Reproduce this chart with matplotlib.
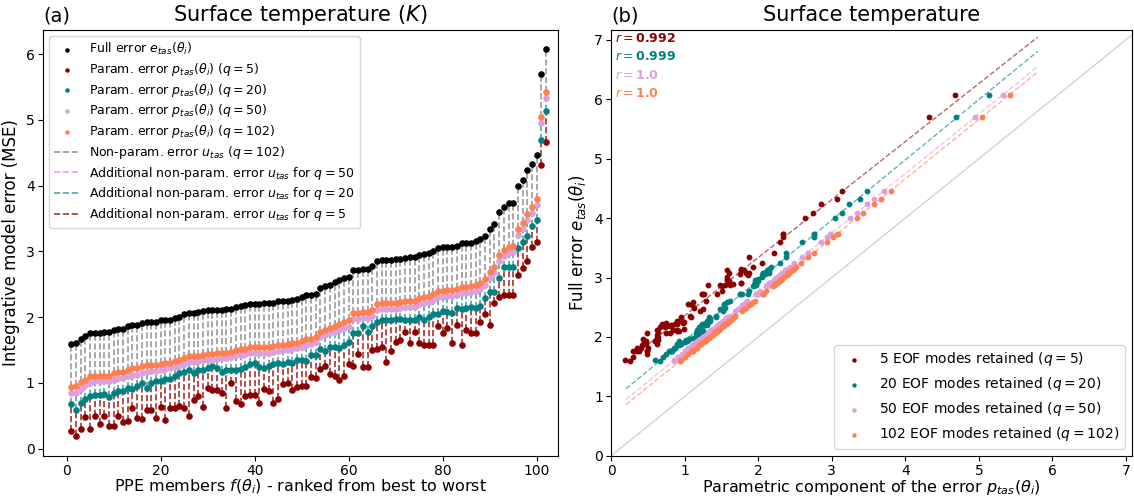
import numpy as np
import matplotlib.pyplot as plt
import matplotlib

# members ranked from best to worst
members = np.arange(1, 103)

full_err = [1.59, 1.61, 1.67, 1.71, 1.76, 1.76, 1.76, 1.77, 1.77, 1.81,
            1.82, 1.82, 1.86, 1.88, 1.88, 1.91, 1.93, 1.93, 1.93, 1.95,
            1.96, 1.96, 1.99, 2.00, 2.04, 2.06, 2.06, 2.07, 2.09, 2.10,
            2.10, 2.11, 2.11, 2.12, 2.13, 2.16, 2.17, 2.18, 2.20, 2.20,
            2.20, 2.21, 2.21, 2.22, 2.24, 2.24, 2.25, 2.26, 2.27, 2.30,
            2.33, 2.33, 2.35, 2.44, 2.47, 2.49, 2.53, 2.56, 2.59, 2.61,
            2.72, 2.72, 2.73, 2.73, 2.77, 2.86, 2.87, 2.87, 2.87, 2.88,
            2.89, 2.90, 2.91, 2.91, 2.95, 2.96, 2.98, 3.01, 3.05, 3.06,
            3.07, 3.07, 3.08, 3.12, 3.12, 3.13, 3.15, 3.18, 3.24, 3.34,
            3.42, 3.60, 3.68, 3.73, 3.74, 4.00, 4.09, 4.23, 4.33, 4.46,
            5.70, 6.08]

p_q102 = [0.93, 0.95, 1.01, 1.05, 1.10, 1.10, 1.10, 1.11, 1.11, 1.15,
          1.16, 1.16, 1.20, 1.22, 1.22, 1.25, 1.27, 1.27, 1.27, 1.29,
          1.30, 1.30, 1.33, 1.34, 1.38, 1.40, 1.40, 1.41, 1.43, 1.44,
          1.44, 1.45, 1.45, 1.46, 1.47, 1.50, 1.51, 1.52, 1.54, 1.54,
          1.54, 1.55, 1.55, 1.56, 1.58, 1.58, 1.59, 1.60, 1.61, 1.64,
          1.67, 1.67, 1.69, 1.78, 1.81, 1.83, 1.87, 1.90, 1.93, 1.95,
          2.06, 2.06, 2.07, 2.07, 2.11, 2.20, 2.21, 2.21, 2.21, 2.22,
          2.23, 2.24, 2.25, 2.25, 2.29, 2.30, 2.32, 2.35, 2.39, 2.40,
          2.41, 2.41, 2.42, 2.46, 2.46, 2.47, 2.49, 2.52, 2.58, 2.68,
          2.76, 2.94, 3.02, 3.07, 3.08, 3.34, 3.43, 3.57, 3.67, 3.80,
          5.04, 5.42]

p_q50 = [0.85, 0.85, 0.91, 0.96, 1.00, 1.02, 1.02, 1.03, 1.03, 1.05,
         1.07, 1.07, 1.10, 1.12, 1.12, 1.15, 1.16, 1.18, 1.18, 1.19,
         1.21, 1.22, 1.24, 1.25, 1.29, 1.31, 1.31, 1.33, 1.34, 1.35,
         1.35, 1.36, 1.37, 1.38, 1.39, 1.42, 1.43, 1.44, 1.45, 1.45,
         1.46, 1.46, 1.46, 1.47, 1.49, 1.50, 1.50, 1.52, 1.53, 1.55,
         1.58, 1.59, 1.62, 1.69, 1.72, 1.75, 1.78, 1.80, 1.83, 1.85,
         1.97, 1.97, 1.98, 1.98, 2.02, 2.11, 2.12, 2.12, 2.13, 2.13,
         2.14, 2.15, 2.16, 2.16, 2.20, 2.21, 2.23, 2.26, 2.30, 2.31,
         2.32, 2.32, 2.33, 2.37, 2.37, 2.38, 2.40, 2.43, 2.49, 2.59,
         2.67, 2.85, 2.93, 2.98, 2.99, 3.25, 3.34, 3.48, 3.58, 3.71,
         4.95, 5.33]

p_q20 = [0.67, 0.59, 0.70, 0.75, 0.80, 0.81, 0.81, 0.83, 0.78, 0.85,
         0.87, 0.87, 0.92, 0.90, 0.95, 1.00, 0.92, 1.00, 1.03, 1.02,
         1.06, 1.06, 1.11, 1.15, 1.16, 1.20, 1.15, 1.19, 1.20, 1.23,
         1.25, 1.23, 1.16, 1.20, 1.20, 1.19, 1.21, 1.24, 1.28, 1.30,
         1.24, 1.23, 1.25, 1.28, 1.30, 1.29, 1.31, 1.30, 1.34, 1.34,
         1.33, 1.43, 1.43, 1.52, 1.48, 1.55, 1.54, 1.53, 1.58, 1.62,
         1.75, 1.75, 1.86, 1.78, 1.87, 1.93, 1.96, 1.95, 1.95, 1.97,
         1.97, 1.96, 1.96, 1.96, 2.00, 1.96, 2.00, 2.05, 2.05, 2.09,
         2.07, 2.06, 2.14, 2.12, 2.14, 2.15, 2.14, 2.17, 2.29, 2.38,
         2.38, 2.59, 2.76, 2.76, 2.76, 3.05, 3.14, 3.24, 3.38, 3.48,
         4.69, 5.14]

p_q5 = [0.26, 0.19, 0.29, 0.48, 0.30, 0.49, 0.38, 0.49, 0.35, 0.35,
        0.50, 0.40, 0.42, 0.62, 0.47, 0.45, 0.59, 0.59, 0.47, 0.63,
        0.43, 0.62, 0.62, 0.64, 0.62, 0.49, 0.74, 0.80, 0.63, 0.92,
        0.89, 0.89, 0.84, 0.62, 0.99, 0.73, 0.67, 0.80, 0.81, 0.82,
        0.70, 0.90, 0.87, 0.69, 0.75, 0.98, 0.99, 0.89, 0.94, 0.95,
        0.95, 1.09, 1.07, 1.21, 1.25, 1.13, 1.10, 1.05, 1.11, 1.29,
        1.26, 1.44, 1.24, 1.24, 1.50, 1.51, 1.55, 1.31, 1.48, 1.62,
        1.65, 1.77, 1.60, 1.77, 1.60, 1.57, 1.58, 1.57, 1.86, 1.75,
        1.84, 1.60, 1.88, 1.58, 1.81, 1.76, 1.76, 1.93, 2.05, 1.88,
        2.22, 2.30, 2.34, 2.33, 2.33, 2.64, 2.74, 2.86, 3.07, 3.14,
        4.32, 4.67]

q_values = [5, 20, 50, 102]
r_labels = ['0.992', '0.999', '1.0', '1.0']
colors = ['darkred', 'teal', 'plum', 'coral']

full_err = np.array(full_err)
params = [np.array(p) for p in (p_q5, p_q20, p_q50, p_q102)]

fig = plt.figure(figsize=(11.34, 4.97), dpi=100)
ax1 = fig.add_axes([0.038, 0.083, 0.454, 0.857])
ax2 = fig.add_axes([0.539, 0.083, 0.459, 0.857])

# ---- (a) ranked errors
ax1.vlines(members, params[3], full_err, colors='grey', linestyles='dashed', alpha=0.8, lw=1.2,
           label=r'Non-param. error $u_{tas}$ ($q=102$)', zorder=1)
ax1.vlines(members, params[2], params[3], colors='violet', linestyles='dashed', alpha=0.8, lw=1.2,
           label=r'Additional non-param. error $u_{tas}$ for $q=50$', zorder=1)
ax1.vlines(members, params[1], params[2], colors='teal', linestyles='dashed', alpha=0.7, lw=1.2,
           label=r'Additional non-param. error $u_{tas}$ for $q=20$', zorder=1)
ax1.vlines(members, params[0], params[1], colors='darkred', linestyles='dashed', alpha=0.8, lw=1.2,
           label=r'Additional non-param. error $u_{tas}$ for $q=5$', zorder=1)

ax1.scatter(members, full_err, s=14, color='black', label=r'Full error $e_{tas}(\theta_i)$', zorder=3)
for p, q, c in zip(params, q_values, colors):
    ax1.scatter(members, p, s=14, color=c, zorder=3,
                label=r'Param. error $p_{tas}(\theta_i)$ ($q=%d$)' % q)

handles, labels = ax1.get_legend_handles_labels()
order = [4, 5, 6, 7, 8, 0, 1, 2, 3]
ax1.legend([handles[i] for i in order], [labels[i] for i in order],
           loc='upper left', fontsize=9, markerscale=0.6, labelspacing=0.3)

ax1.set_xlim(-5, 104.5)
ax1.set_ylim(-0.11, 6.37)
ax1.set_xticks(np.arange(0, 101, 20))
ax1.tick_params(labelsize=10, pad=2.5)
ax1.set_xlabel(r'PPE members $f(\theta_i)$ - ranked from best to worst', fontsize=11.5, labelpad=0)
ax1.set_ylabel('Integrative model error (MSE)', fontsize=12)
ax1.set_title(r'Surface temperature ($K$)', fontsize=15)
ax1.set_title('(a)', loc='left', fontsize=14)

# ---- (b) full error vs parametric component
xfit = np.array([0.2, 5.8])
ax2.plot([0, 7.2], [0, 7.2], color='lightgrey', lw=1, zorder=0)
for i, (p, q, c) in enumerate(zip(params, q_values, colors)):
    ax2.scatter(p, full_err, s=10, color=c, zorder=3,
                label=r'%d EOF modes retained ($q=%d$)' % (q, q))
    a, b = np.polyfit(p, full_err, 1)
    ax2.plot(xfit, a * xfit + b, '--', color=c, alpha=0.6, lw=1, zorder=2)
    ax2.text(0.008, 0.995 - i * 0.043, r'$r=$' + r'$\bf{%s}$' % r_labels[i], color=c,
             fontsize=9, transform=ax2.transAxes, va='top', ha='left')

ax2.legend(loc='lower right', fontsize=10, markerscale=0.7)
ax2.set_xlim(0, 7.08)
ax2.set_ylim(0, 7.17)
ax2.set_xticks(np.arange(0, 8, 1))
ax2.set_yticks(np.arange(0, 8, 1))
ax2.tick_params(labelsize=10, pad=2.5)
ax2.set_xlabel(r'Parametric component of the error $p_{tas}(\theta_i)$', fontsize=11.5, labelpad=0)
ax2.set_ylabel(r'Full error $e_{tas}(\theta_i)$', fontsize=12)
ax2.set_title('Surface temperature', fontsize=15)
ax2.set_title('(b)', loc='left', fontsize=14)

plt.savefig('out.png', dpi=100)
